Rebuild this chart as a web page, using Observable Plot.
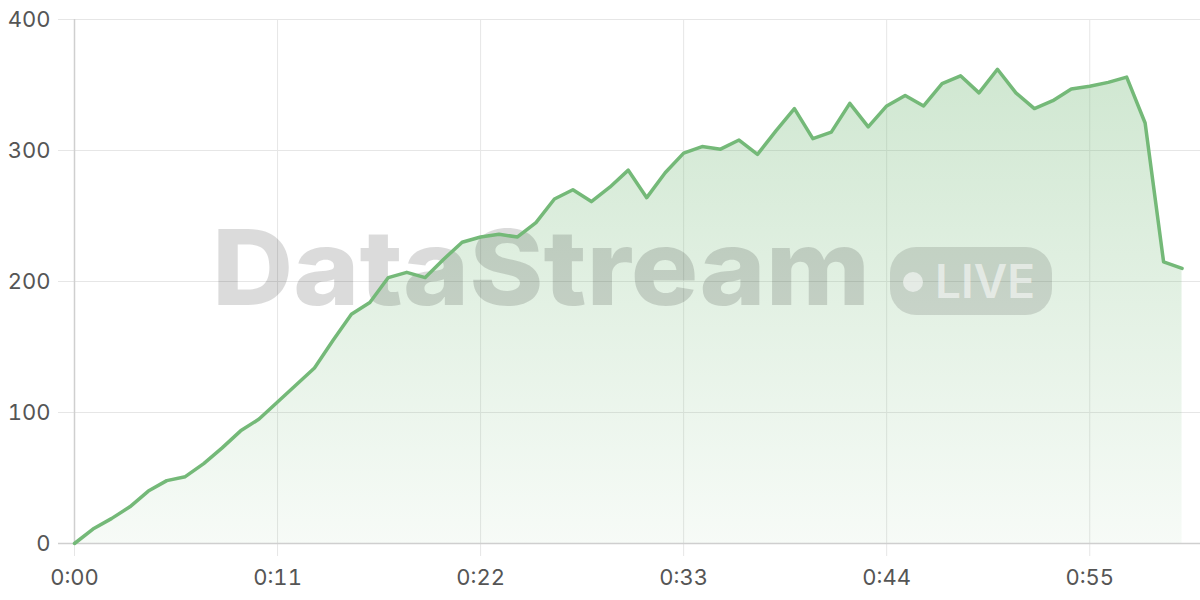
<!DOCTYPE html>
<html><head><meta charset="utf-8">
<script src="https://cdn.jsdelivr.net/npm/d3@7"></script>
<script src="https://cdn.jsdelivr.net/npm/@observablehq/plot@0.6"></script>
<style>
body{margin:0;background:#fff;}
#wrap{position:relative;width:1200px;height:600px;}
</style>
</head><body><div id="wrap"></div>
<script>
const seconds = [0,1,2,3,4,5,6,7,8,9,10,11,12,13,14,15,16,17,18,19,20,21,22,23,24,25,26,27,28,29,30,31,32,33,34,35,36,37,38,39,40,41,42,43,44,45,46,47,48,49,50,51,52,53,54,55,56,57,58,59,60];
const values = [0,11,19,28,40,48,51,61,73,86,95,108,121,134,155,175,184,203,207,203,217,230,234,236,234,245,263,270,261,272,285,264,283,298,303,301,308,297,315,332,309,314,336,318,334,342,334,351,357,344,362,344,332,338,347,349,352,356,321,215,210];
const xTicks = [0,11,22,33,44,55];
const yTicks = [0,100,200,300,400];
const data = seconds.map((t,i)=>({t, v: values[i]}));
const fmt = s => `${Math.floor(s/60)}:${String(s%60).padStart(2,"0")}`;

const gradientDefs = () => {
  const defs = d3.create("svg:defs");
  const g = defs.append("linearGradient").attr("id","areaGrad")
    .attr("x1",0).attr("x2",0).attr("y1",0).attr("y2",1);
  g.append("stop").attr("offset","0%").attr("stop-color","#74b978").attr("stop-opacity",0.34);
  g.append("stop").attr("offset","100%").attr("stop-color","#74b978").attr("stop-opacity",0.06);
  return defs.node();
};

const watermark = (index, scales, values, dim) => {
  const cx = (dim.marginLeft + dim.width - dim.marginRight) / 2;
  const cy = (dim.marginTop + dim.height - dim.marginBottom) / 2;
  const g = d3.create("svg:g").attr("pointer-events","none");
  g.append("text").attr("x", cx - 425).attr("y", cy + 24)
    .attr("text-anchor","start")
    .attr("font-family","Inter, 'DejaVu Sans', sans-serif")
    .attr("font-weight",800).attr("font-size",105)
    .attr("textLength",658).attr("lengthAdjust","spacingAndGlyphs")
    .attr("fill","#000").attr("fill-opacity",0.14)
    .text("DataStream");
  g.append("rect").attr("x", cx + 253).attr("y", cy - 34).attr("width",162).attr("height",68)
    .attr("rx",26).attr("fill","#000").attr("fill-opacity",0.12);
  g.append("circle").attr("cx", cx + 276).attr("cy", cy + 1).attr("r",10)
    .attr("fill","#fff").attr("fill-opacity",0.55);
  g.append("text").attr("x", cx + 348).attr("y", cy + 17)
    .attr("text-anchor","middle")
    .attr("font-family","Inter, 'DejaVu Sans', sans-serif")
    .attr("font-weight",600).attr("font-size",46)
    .attr("fill","#fff").attr("fill-opacity",0.55)
    .text("LIVE");
  return g.node();
};

const chart = Plot.plot({
  width: 1200, height: 600,
  marginLeft: 74, marginRight: 0, marginTop: 19, marginBottom: 57,
  style: {fontFamily: "Inter, 'Noto Sans', sans-serif", fontSize: "22px", color: "#555", background: "#fff"},
  x: {domain: [0, 61], label: null},
  y: {domain: [0, 400], label: null},
  marks: [
    gradientDefs,
    Plot.ruleX(xTicks, {stroke: "#e6e6e6", insetBottom: -13}),
    Plot.ruleY(yTicks, {stroke: "#e6e6e6", insetLeft: -16}),
    Plot.areaY(data, {x: "t", y: "v", fill: "url(#areaGrad)"}),
    watermark,
    Plot.ruleX([0], {stroke: "#cfcfcf", strokeWidth: 1.5}),
    Plot.ruleY([0], {stroke: "#cfcfcf", strokeWidth: 1.5, insetLeft: -16}),
    Plot.lineY(data, {x: "t", y: "v", stroke: "#74b978", strokeWidth: 3.5}),
    Plot.axisX(xTicks, {tickSize: 0, tickPadding: 26, tickFormat: fmt, fill: "#555"}),
    Plot.axisY(yTicks, {tickSize: 0, tickPadding: 24, fill: "#555"})
  ]
});
document.getElementById("wrap").appendChild(chart);
</script>
</body></html>
